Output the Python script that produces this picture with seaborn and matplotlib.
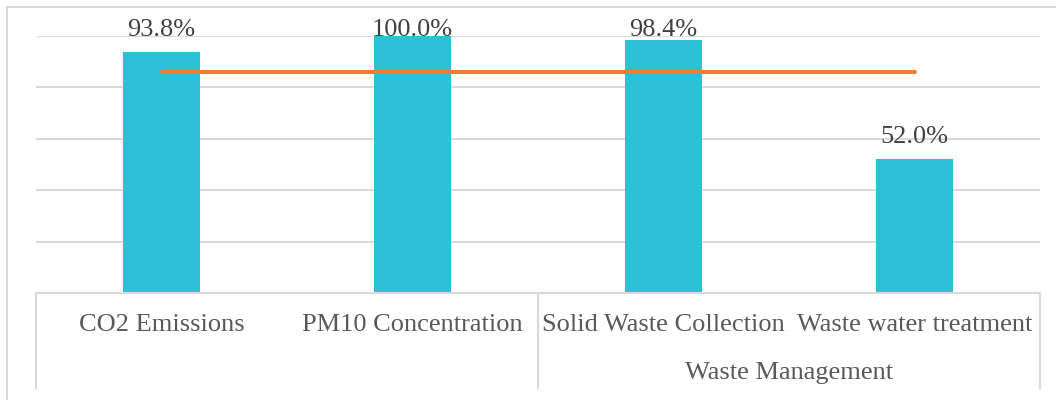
import matplotlib
matplotlib.use("Agg")
import matplotlib.pyplot as plt
import matplotlib.transforms as mtransforms
from matplotlib.patches import Rectangle
import seaborn as sns
import pandas as pd

# Indicator categories and their scores (%)
categories = ["CO2 Emissions", "PM10 Concentration", "Solid Waste Collection", "Waste water treatment"]
scores = [93.8, 100.0, 98.4, 52.0]
average_line = [86.05, 86.05, 86.05, 86.05]
group_label = "Waste Management"
group_members = ["Solid Waste Collection", "Waste water treatment"]
y_ticks = [0, 20, 40, 60, 80, 100]

BAR = "#2CC1D6"
LINE = "#ED7D31"
GRID = "#D9D9D9"
TXT = "#595959"
VAL = "#404040"

sns.set_theme(style="white")
plt.rcParams["font.family"] = ["Liberation Serif", "DejaVu Serif"]

df = pd.DataFrame({"category": categories, "score": scores})

fig = plt.figure(figsize=(10.56, 4.0), dpi=100)
ax = fig.add_axes([36 / 1056, 1 - 293 / 400, (1040 - 36) / 1056, (293 - 36) / 400])

sns.barplot(data=df, x="category", y="score", color=BAR, width=0.31,
            saturation=1, linewidth=0, ax=ax, zorder=3)
sns.lineplot(x=list(range(len(categories))), y=average_line, color=LINE,
             linewidth=2.9, ax=ax, zorder=4, solid_capstyle="round")

ax.set_ylim(0, 100)
ax.set_xlim(-0.5, len(categories) - 0.5)
ax.set_yticks(y_ticks)
ax.set_yticklabels([])
ax.tick_params(axis="both", length=0)
ax.yaxis.grid(True, color=GRID, linewidth=1.4, zorder=0)
ax.set_axisbelow(True)
ax.set_xlabel("")
ax.set_ylabel("")
ax.set_xticklabels([])
for side in ["top", "left", "right"]:
    ax.spines[side].set_visible(False)
ax.spines["bottom"].set_color(GRID)
ax.spines["bottom"].set_linewidth(1.5)
ax.spines["bottom"].set_zorder(5)

# value labels above bars, kept inside the plot area
px_per_unit = 257 / 100
for i, v in enumerate(scores):
    y = min(v + 16.5 / px_per_unit, 100)
    ax.text(i, y, f"{v:.1f}%", ha="center", va="baseline", fontsize=19,
            color=VAL, zorder=6)

# two-level category axis
trans = mtransforms.blended_transform_factory(ax.transData, ax.transAxes)
for i, c in enumerate(categories):
    ax.text(i, -0.1245, c, ha="center", va="center", fontsize=19, color=TXT,
            transform=trans, clip_on=False)

first = categories.index(group_members[0])
last = categories.index(group_members[-1])
ax.text((first + last) / 2, -0.311, group_label, ha="center", va="center",
        fontsize=19, color=TXT, transform=trans, clip_on=False)

for x in [-0.5, first - 0.5, last + 0.5]:
    ax.plot([x, x], [0, -0.37], color=GRID, linewidth=1.5, transform=trans,
            clip_on=False)

# chart area border
fig.patches.append(Rectangle((7 / 1056, -0.1), 1.2, 1 - 7 / 400 + 0.1,
                             transform=fig.transFigure, fill=False,
                             edgecolor=GRID, linewidth=1.5))

fig.savefig("out.png", dpi=100, facecolor="white")
